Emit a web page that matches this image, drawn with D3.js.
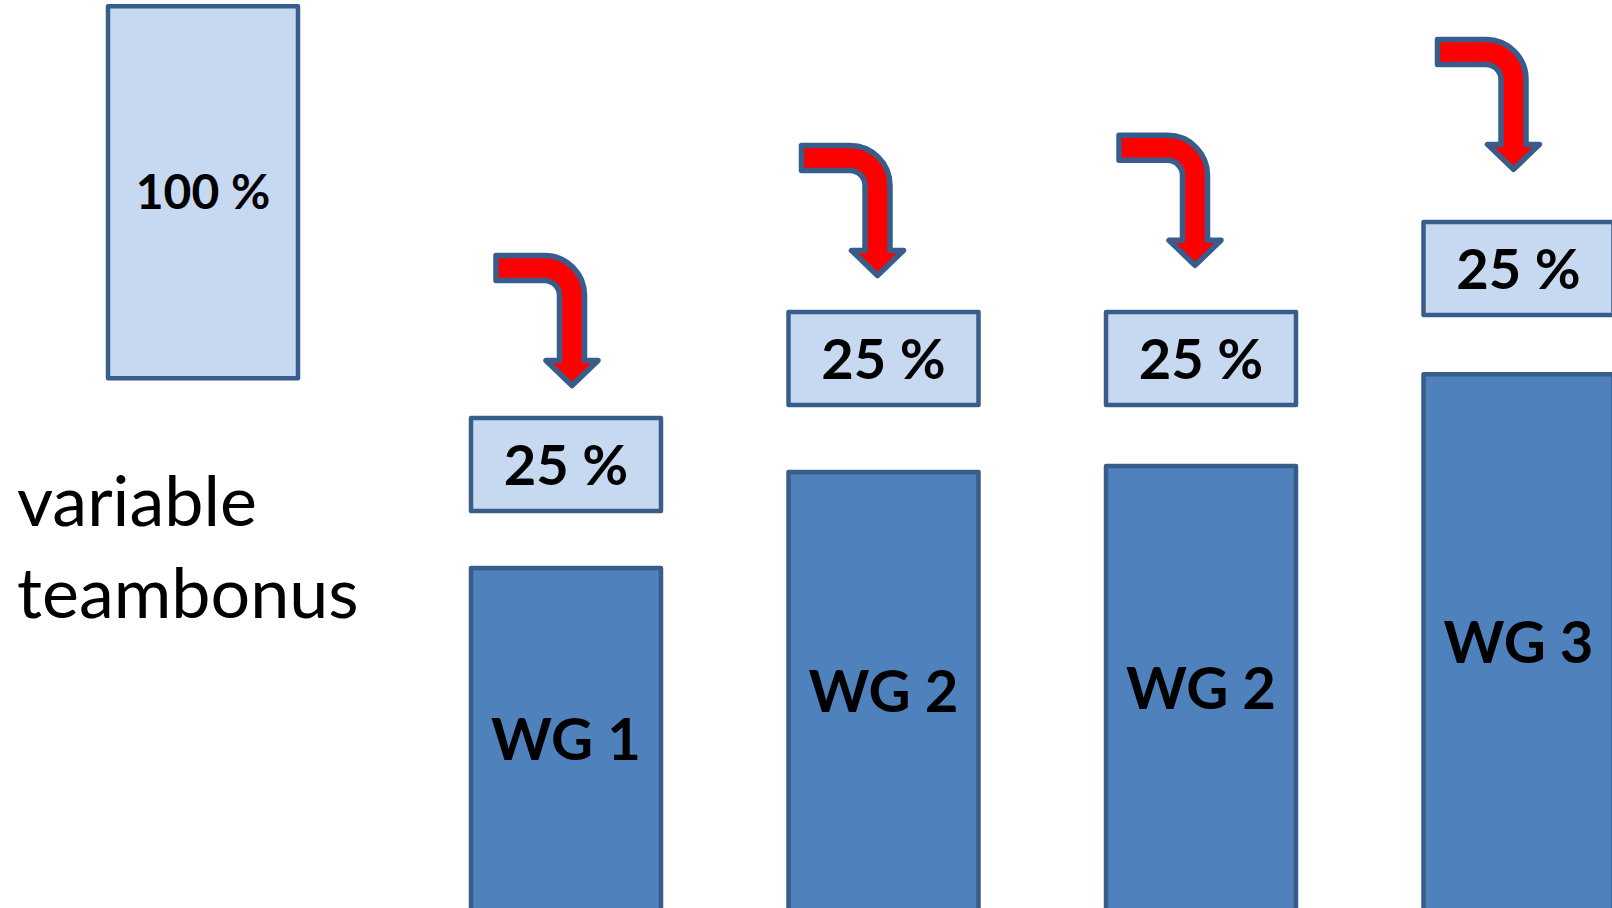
<!DOCTYPE html>
<html>
<head>
<meta charset="utf-8">
<script src="https://cdn.jsdelivr.net/npm/d3@7"></script>
<style>
  html, body { margin: 0; padding: 0; background: #fff; }
  svg { display: block; }
</style>
</head>
<body>
<svg id="chart" width="1612" height="908"></svg>
<script>
'use strict';

// data, levels in percent of the total bonus, counted from the page bottom
var groups = ["WG 1", "WG 2", "WG 2", "WG 3"];
var baseLevel = [91.4, 117.2, 118.8, 143.5];   // top of the dark salary bar
var bonusLevel = [106.7, 135.2, 135.2, 159.4]; // bottom of the 25 % box
var bonusShare = [25, 25, 25, 25];
var arrowLevel = [175.4, 205, 207.7, 233.5];   // top of the bent arrow tail
var totalShare = 100;
var totalLevel = 142.4;
var sideLabel = ["variable", "teambonus"];

var svg = d3.select("#chart"),
    width = +svg.attr("width"),
    height = +svg.attr("height");

var lightFill = "#c6d9f1",
    darkFill = "#4f81bd",
    edge = "#385d8a",
    red = "#ff0000",
    font = "Lato, 'Open Sans', sans-serif";

var x = d3.scaleBand()
    .domain(d3.range(groups.length))
    .range([471, 1613.5])
    .paddingInner(0.4016);

var y = d3.scaleLinear()
    .domain([0, 100])
    .range([height, height - 372]);

var totalX = 108;
var arrowShift = [6, -6, -6, -5];

function capBaseline(cy, size) { return cy + size * 0.358; }

// total bonus box
var totalTop = y(totalLevel + totalShare), totalBottom = y(totalLevel);
svg.append("rect")
    .attr("x", totalX).attr("y", totalTop)
    .attr("width", x.bandwidth()).attr("height", totalBottom - totalTop)
    .style("fill", lightFill).style("stroke", edge)
    .style("stroke-width", 4.5).style("stroke-linejoin", "round");

svg.append("text")
    .attr("x", totalX + x.bandwidth() / 2)
    .attr("y", capBaseline((totalTop + totalBottom) / 2, 48))
    .attr("text-anchor", "middle")
    .style("font-family", font).style("font-weight", 700).style("font-size", "48px")
    .text(totalShare + " %");

svg.append("g").selectAll("text")
    .data(sideLabel)
  .enter().append("text")
    .attr("x", 17)
    .attr("y", function(d, i) { return 526 + i * 92; })
    .style("font-family", font).style("font-size", "70px")
    .text(function(d) { return d; });

var col = svg.append("g").selectAll("g")
    .data(groups)
  .enter().append("g");

// salary group bars, running off the bottom of the page
col.append("rect")
    .attr("x", function(d, i) { return x(i); })
    .attr("y", function(d, i) { return y(baseLevel[i]); })
    .attr("width", x.bandwidth())
    .attr("height", function(d, i) { return y(-0.8) - y(baseLevel[i]); })
    .style("fill", darkFill).style("stroke", edge)
    .style("stroke-width", 4.5).style("stroke-linejoin", "round");

col.append("text")
    .attr("x", function(d, i) { return x(i) + x.bandwidth() / 2; })
    .attr("y", function(d, i) { return capBaseline((y(baseLevel[i]) + y(-0.5)) / 2, 58); })
    .attr("text-anchor", "middle")
    .style("font-family", font).style("font-weight", 700).style("font-size", "58px")
    .text(function(d) { return d; });

// 25 % boxes
col.append("rect")
    .attr("x", function(d, i) { return x(i); })
    .attr("y", function(d, i) { return y(bonusLevel[i] + bonusShare[i]); })
    .attr("width", x.bandwidth())
    .attr("height", function(d, i) { return y(bonusLevel[i]) - y(bonusLevel[i] + bonusShare[i]); })
    .style("fill", lightFill).style("stroke", edge)
    .style("stroke-width", 4.5).style("stroke-linejoin", "round");

col.append("text")
    .attr("x", function(d, i) { return x(i) + x.bandwidth() / 2; })
    .attr("y", function(d, i) {
        return capBaseline((y(bonusLevel[i]) + y(bonusLevel[i] + bonusShare[i])) / 2, 56);
    })
    .attr("text-anchor", "middle")
    .style("font-family", font).style("font-weight", 700).style("font-size", "56px")
    .text(function(d, i) { return bonusShare[i] + " %"; });

// bent arrows
function bentArrow(cx, ty) {
    var t = 25, hw = 12.5, R = 40, r = R - t, tail = 76, head = 26;
    var p = d3.path();
    p.moveTo(cx - tail, ty);
    p.lineTo(cx + hw - R, ty);
    p.arcTo(cx + hw, ty, cx + hw, ty + R, R);
    p.lineTo(cx + hw, ty + 105);
    p.lineTo(cx + head, ty + 105);
    p.lineTo(cx, ty + 130);
    p.lineTo(cx - head, ty + 105);
    p.lineTo(cx - hw, ty + 105);
    p.lineTo(cx - hw, ty + t + r);
    p.arcTo(cx - hw, ty + t, cx - hw - r, ty + t, r);
    p.lineTo(cx - tail, ty + t);
    p.closePath();
    return p.toString();
}

col.append("path")
    .attr("d", function(d, i) {
        return bentArrow(x(i) + x.bandwidth() / 2 + arrowShift[i], y(arrowLevel[i]));
    })
    .style("fill", red).style("stroke", edge)
    .style("stroke-width", 5.5).style("stroke-linejoin", "round");
</script>
</body>
</html>
